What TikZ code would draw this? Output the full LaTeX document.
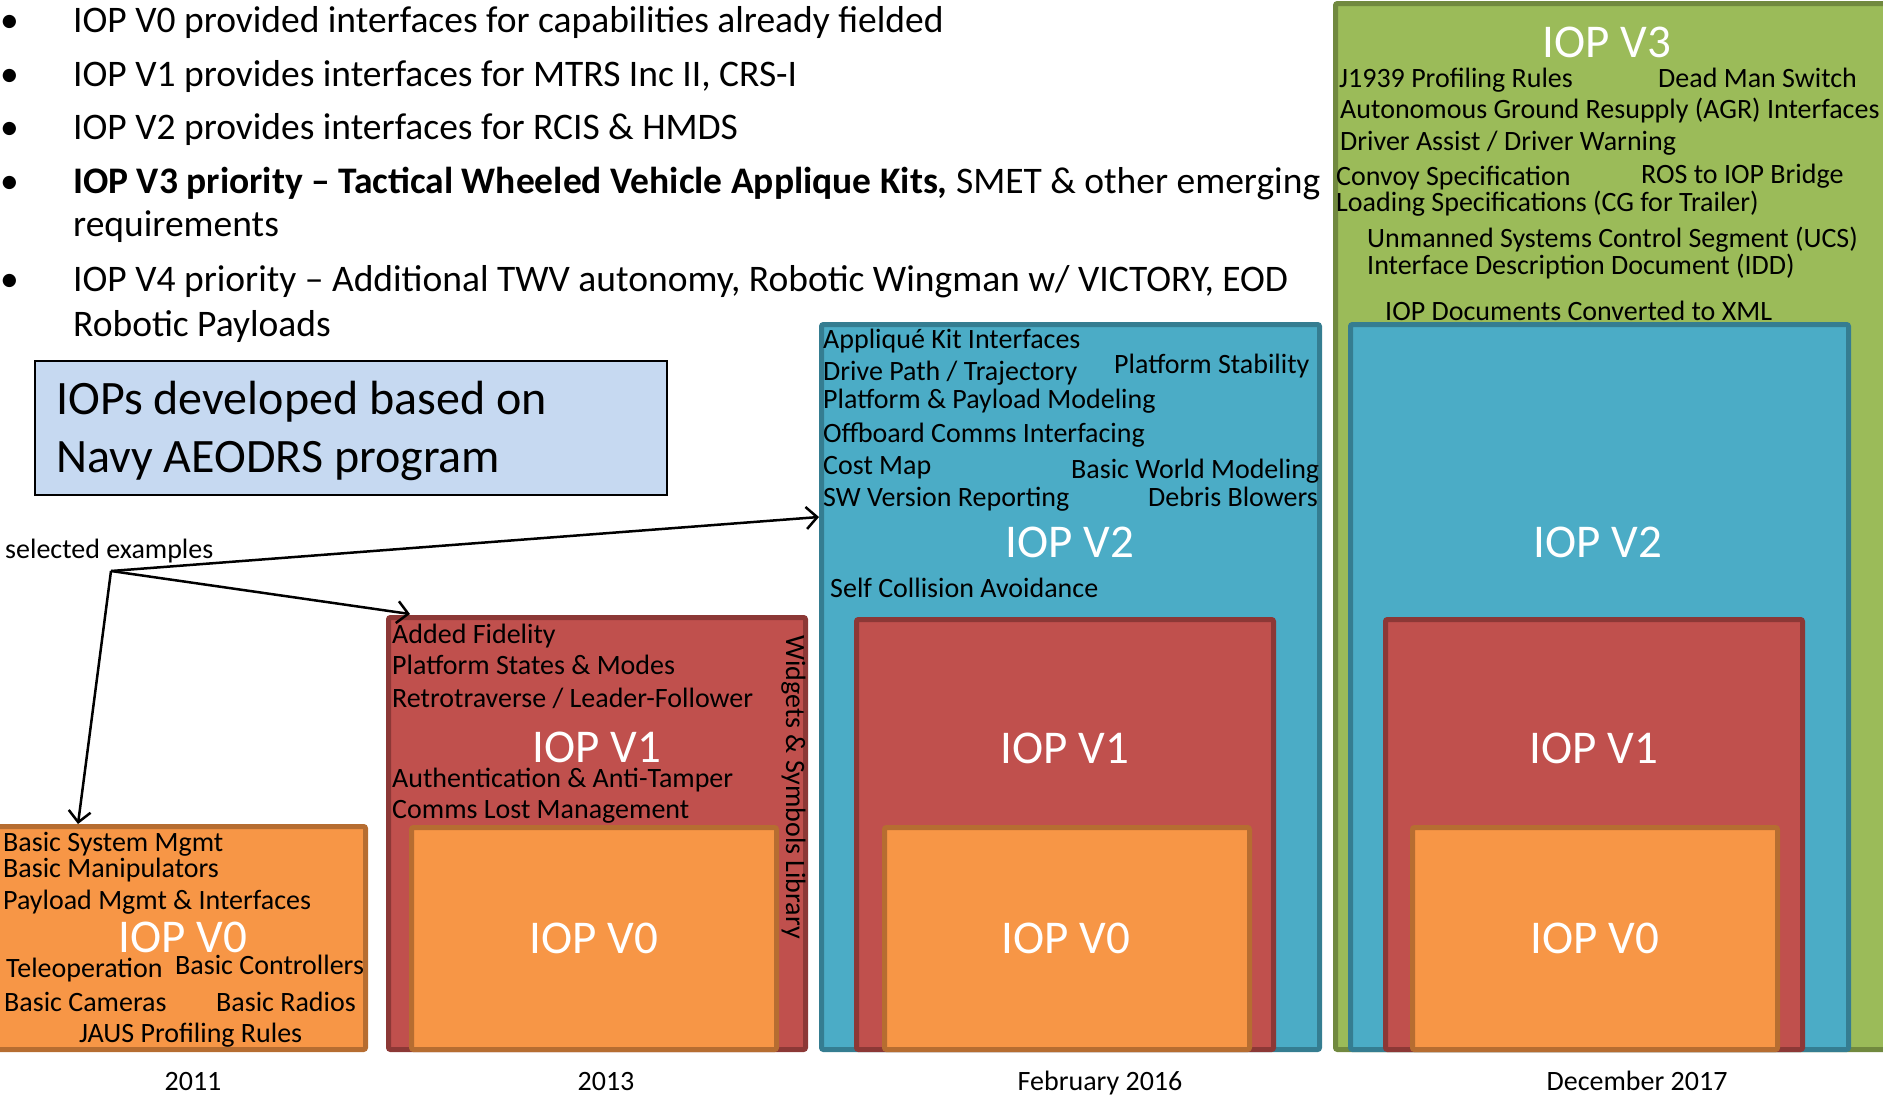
\documentclass[tikz,border=0pt]{standalone}
\usepackage{fontspec}
\setmainfont{Carlito}
\usetikzlibrary{arrows.meta}

\definecolor{orfill}{HTML}{F79646}
\definecolor{ordraw}{HTML}{B66D31}
\definecolor{rdfill}{HTML}{C0504D}
\definecolor{rddraw}{HTML}{8C3836}
\definecolor{blfill}{HTML}{4BACC6}
\definecolor{bldraw}{HTML}{357D91}
\definecolor{grfill}{HTML}{9BBB59}
\definecolor{grdraw}{HTML}{71893F}
\definecolor{notefill}{HTML}{C6D9F1}

\tikzset{
  v0box/.style={fill=orfill, draw=ordraw, line width=5pt, rounded corners=2pt},
  v1box/.style={fill=rdfill, draw=rddraw, line width=5pt, rounded corners=2pt},
  v2box/.style={fill=blfill, draw=bldraw, line width=5pt, rounded corners=2pt},
  v3box/.style={fill=grfill, draw=grdraw, line width=5pt, rounded corners=2pt},
  bullet/.style={anchor=base west, inner sep=0pt, font=\fontsize{37.5pt}{44pt}\selectfont},
  item/.style={anchor=base west, inner sep=0pt, font=\fontsize{28pt}{32pt}\selectfont},
  title/.style={anchor=base, inner sep=0pt, text=white, font=\fontsize{47pt}{52pt}\selectfont},
  year/.style={anchor=base, inner sep=0pt, font=\fontsize{28pt}{30pt}\selectfont},
  pointer/.style={line width=2.5pt, -{Straight Barb[length=11pt, width=22pt, line width=2.5pt]}},
}

\begin{document}
\begin{tikzpicture}[x=1pt, y=-1pt]
\useasboundingbox (0,0) rectangle (1883,1096);

% ---- bullet list ----
\foreach \yy in {32,86,139,193,291}
  \node[bullet] at (0,\yy) {•};
\node[bullet] (b1) at (73,32) {IOP V0 provided interfaces for capabilities already fielded};
\node[bullet] (b2) at (73,86) {IOP V1 provides interfaces for MTRS Inc II, CRS-I};
\node[bullet] (b3) at (73,139) {IOP V2 provides interfaces for RCIS \& HMDS};
\node[bullet] (b4) at (73,193) {\textbf{IOP V3 priority – Tactical Wheeled Vehicle Applique Kits,} SMET \& other emerging};
\node[bullet] (b4b) at (73,236) {requirements};
\node[bullet] (b5) at (73,291) {IOP V4 priority – Additional TWV autonomy, Robotic Wingman w/ VICTORY, EOD};
\node[bullet] (b5b) at (73,336) {Robotic Payloads};

% ---- note box ----
\draw[fill=notefill, draw=black, line width=2pt] (35,361) rectangle (667,495);
\node[anchor=base west, inner sep=0pt, font=\fontsize{48pt}{52pt}\selectfont] (n1) at (56,414) {IOPs developed based on};
\node[anchor=base west, inner sep=0pt, font=\fontsize{48pt}{52pt}\selectfont] (n2) at (56,472) {Navy AEODRS program};

% ---- 2011 ----
\draw[v0box] (-3,826.5) rectangle (365.5,1049.5);
\node[item] (a1) at (3,851) {Basic System Mgmt};
\node[item] (a2) at (3,877) {Basic Manipulators};
\node[item] (a3) at (3,909) {Payload Mgmt \& Interfaces};
\node[title] (a0) at (183,952) {IOP V0};
\node[item] (a4) at (6,977) {Teleoperation};
\node[item] (a5) at (175,974) {Basic Controllers};
\node[item] (a6) at (4,1011) {Basic Cameras};
\node[item] (a7) at (216,1011) {Basic Radios};
\node[item] (a8) at (79,1042) {JAUS Profiling Rules};
\coordinate (v0top) at (78,824);

% ---- 2013 ----
\draw[v1box] (388.5,617.5) rectangle (805.5,1049.5);
\node[item] (c1) at (392,643) {Added Fidelity};
\node[item] (c2) at (392,674) {Platform States \& Modes};
\node[item] (c3) at (392,707) {Retrotraverse / Leader-Follower};
\node[title] (c0) at (597,762) {IOP V1};
\node[item] (c4) at (392,787) {Authentication \& Anti-Tamper};
\node[item] (c5) at (392,818) {Comms Lost Management};
\node[item, rotate=-90] (c6) at (786,635) {Widgets \& Symbols Library};
\draw[v0box] (411.5,827.5) rectangle (776.5,1049.5);
\node[title] (c7) at (594,953) {IOP V0};
\coordinate (v1top) at (410,614);

% ---- February 2016 ----
\draw[v2box] (821.5,324.5) rectangle (1319.5,1049.5);
\node[item] (d1) at (823,348) {Appliqué Kit Interfaces};
\node[item] (d2) at (823,380) {Drive Path / Trajectory};
\node[item] (d3) at (1114,373) {Platform Stability};
\node[item] (d4) at (823,408) {Platform \& Payload Modeling};
\node[item] (d5) at (823,442) {Offboard Comms Interfacing};
\node[item] (d6) at (823,474) {Cost Map};
\node[item] (d7) at (1071,478) {Basic World Modeling};
\node[item] (d8) at (823,506) {SW Version Reporting};
\node[item] (d9) at (1148,506) {Debris Blowers};
\node[title] (d0) at (1070,557) {IOP V2};
\node[item] (d10) at (830,597) {Self Collision Avoidance};
\draw[v1box] (856.5,619.5) rectangle (1273.5,1049.5);
\node[title] (d11) at (1065,763) {IOP V1};
\draw[v0box] (884.5,827.5) rectangle (1249.5,1049.5);
\node[title] (d12) at (1066,953) {IOP V0};
\coordinate (v2side) at (819,517);

% ---- December 2017 ----
\draw[v3box] (1335.5,3.5) rectangle (1895,1049.5);
\node[title] (e0) at (1607,57) {IOP V3};
\node[item] (e1) at (1339,87) {J1939 Profiling Rules};
\node[item] (e2) at (1658,87) {Dead Man Switch};
\node[item] (e3) at (1340,118) {Autonomous Ground Resupply (AGR) Interfaces};
\node[item] (e4) at (1340,150) {Driver Assist / Driver Warning};
\node[item] (e5) at (1336,185) {Convoy Specification};
\node[item] (e6) at (1641,183) {ROS to IOP Bridge};
\node[item] (e7) at (1336,211) {Loading Specifications (CG for Trailer)};
\node[item] (e8) at (1367,247) {Unmanned Systems Control Segment (UCS)};
\node[item] (e9) at (1367,274) {Interface Description Document (IDD)};
\node[item] (e10) at (1385,320) {IOP Documents Converted to XML};
\draw[v2box] (1350.5,324.5) rectangle (1848.5,1049.5);
\node[title] (e11) at (1598,557) {IOP V2};
\draw[v1box] (1385.5,619.5) rectangle (1802.5,1049.5);
\node[title] (e12) at (1594,763) {IOP V1};
\draw[v0box] (1412.5,827.5) rectangle (1777.5,1049.5);
\node[title] (e13) at (1595,953) {IOP V0};

% ---- timeline ----
\node[year] (y1) at (193,1090) {2011};
\node[year] (y2) at (606,1090) {2013};
\node[year] (y3) at (1100,1090) {February 2016};
\node[year] (y4) at (1637,1090) {December 2017};

% ---- pointers ----
\node[anchor=base west, inner sep=0pt, font=\fontsize{28pt}{30pt}\selectfont] (sel) at (5,558) {selected examples};
\coordinate (hub) at (111,571);
\draw[pointer] (hub) -- (v2side);
\draw[pointer] (hub) -- (v1top);
\draw[pointer] (hub) -- (v0top);
\end{tikzpicture}
\end{document}
